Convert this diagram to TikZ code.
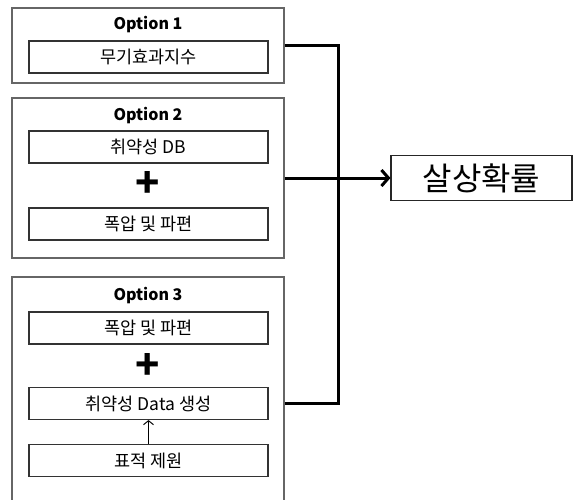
\documentclass[tikz,border=0pt]{standalone}
\usepackage{fontspec}
\setmainfont{Noto Sans CJK KR}
\usetikzlibrary{positioning}
\usetikzlibrary{arrows.meta}
\usetikzlibrary{calc}
\tikzset{option box/.style={draw=black!60,
                            line width=1.1pt,
                            minimum width=272pt}}
\tikzset{item box/.style={draw=black!80,
                          line width=1.1pt,
                          minimum width=239pt,
                          minimum height=32pt,
                          inner sep=0pt,
                          font=\fontsize{17.5}{20}\selectfont}}
\tikzset{option title/.style={font=\fontsize{16}{18}\selectfont\bfseries}}
\tikzset{plus sign/.style={font=\fontsize{40}{40}\selectfont\bfseries,inner sep=0pt}}
\tikzset{link/.style={draw,
                      line width=3pt}}

\begin{document}
\begin{tikzpicture}
      [
      x=1pt,y=-1pt,
      result box/.style={draw=black!85,
      line width=1.1pt,
      minimum width=181pt,
      minimum height=45pt,
      font=\fontsize{32}{34}\selectfont},
      ]
      \useasboundingbox (0,0) rectangle (577,499);
      \clip (0,0) rectangle (577,499);

      % option boxes
      \node [option box,minimum height=75pt] (opt1) at (148,45.5) {};
      \node [option box,minimum height=160pt] (opt2) at (148,178) {};
      \node [option box,minimum height=243pt] (opt3) at (148,398.5) {};

      % titles
      \node [option title] (title1) at (148,25) {Option 1};
      \node [option title] (title2) at (148,116) {Option 2};
      \node [option title] (title3) at (148,295) {Option 3};

      % items
      \node [item box] (item11) at (148.5,57) {무기효과지수};
      \node [item box] (item21) at (148.5,147) {취약성 DB};
      \node [plus sign] (plus2) at (148,184) {+};
      \node [item box] (item22) at (148.5,224) {폭압 및 파편};
      \node [item box] (item31) at (148.5,328) {폭압 및 파편};
      \node [plus sign] (plus3) at (148,366) {+};
      \node [item box] (item32) at (148.5,403.5) {취약성 Data 생성};
      \node [item box] (item33) at (148.5,460.5) {표적 제원};

      \draw [line width=1pt,-{Straight Barb[length=4pt,width=10pt]}] (item33) -- (item32);

      % result
      \node [result box] (result) at (481.5,178) {살상확률};

      % edges
      \coordinate (bus) at (338,0);
      \coordinate (out3) at (opt3.east |- item32);
      \path [link] (opt1.east) -- (opt1.east -| bus) -- (out3 -| bus) -- (out3);
      \path [link,-{Straight Barb[length=7pt,width=16pt]}] (opt2.east) -- (result.west);

    \end{tikzpicture}
\end{document}
